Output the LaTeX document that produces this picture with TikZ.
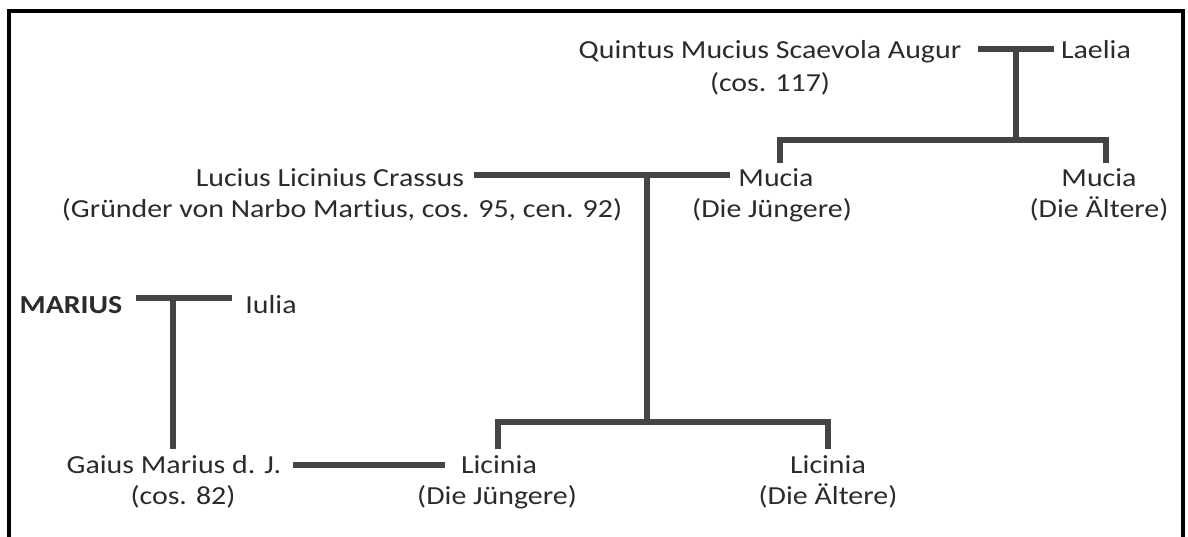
\documentclass[tikz,border=0pt]{standalone}
\usepackage{fontspec}
\setmainfont{Carlito}[FakeStretch=1.15, Ligatures=NoCommon]
\usetikzlibrary{calc}
\definecolor{ink}{HTML}{2B2B2B}
\definecolor{bondgray}{HTML}{444444}

\begin{document}
\begin{tikzpicture}[x=1pt,y=-1pt,
  person/.style={font=\fontsize{26}{31}\selectfont, text=ink,
    text height=22pt, text depth=2pt, inner xsep=0pt, inner ysep=2pt,
    outer sep=0pt, anchor=base},
  bond/.style={draw=bondgray, line width=5.5pt},
  frame/.style={draw=black, line width=4.8pt}]

\useasboundingbox (0,0) rectangle (1188,537);
\draw[frame] (9,537) -- (9,11) -- (1183,11) -- (1183,537);

% people
\node[person] (quintus) at (770,59) {Quintus Mucius Scaevola Augur};
\node[person] (quintusB) at (770,92) {(cos. 117)};
\node[person] (laelia) at (1096,59) {Laelia};

\node[person] (lucius) at (330,187) {Lucius Licinius Crassus};
\node[person] (luciusB) at (342,218) {(Gründer von Narbo Martius, cos. 95, cen. 92)};
\node[person] (mucJ) at (776,187) {Mucia};
\node[person] (mucJb) at (772,218) {(Die Jüngere)};
\node[person] (mucA) at (1099,187) {Mucia};
\node[person] (mucAb) at (1099,218) {(Die Ältere)};

\node[person, font=\fontsize{26}{31}\selectfont\bfseries] (marius) at (71,313) {MARIUS};
\node[person] (iulia) at (271,313) {Iulia};
\node[person] (gaius) at (174,473) {Gaius Marius d. J.};
\node[person] (gaiusB) at (183,504) {(cos. 82)};

\node[person] (licJ) at (499,473) {Licinia};
\node[person] (licJb) at (497,504) {(Die Jüngere)};
\node[person] (licA) at (828,473) {Licinia};
\node[person] (licAb) at (828,504) {(Die Ältere)};

% junctions and sibling bars
\coordinate (jq) at (1016,49);
\coordinate (qbar) at (0,140);
\coordinate (jl) at (647,175);
\coordinate (lbar) at (0,422);
\coordinate (jm) at (173,298);

% Quintus + Laelia
\draw[bond, shorten <=17pt, shorten >=7pt] (quintus.east) -- (laelia.west);
\draw[bond] (jq) -- (jq |- qbar);
\draw[bond] ([xshift=4pt]mucJ.north) |- ([xshift=7pt]mucA.north |- qbar) -- ([xshift=7pt]mucA.north);

% Crassus + Mucia
\draw[bond, shorten <=10pt, shorten >=8pt] ([yshift=2pt]lucius.east) -- ([yshift=2pt]mucJ.west);
\draw[bond] (jl) -- (jl |- lbar);
\draw[bond] ([xshift=-1pt]licJ.north) |- (licA.north |- lbar) -- (licA.north);

% Marius + Iulia
\draw[bond, shorten <=14pt, shorten >=13pt] ([yshift=5pt]marius.east) -- ([yshift=5pt]iulia.west);
\draw[bond] (jm) -- (jm |- gaius.north);

% Gaius Marius + Licinia
\draw[bond, shorten <=12pt, shorten >=16pt] ([yshift=-2pt]gaius.east) -- ([yshift=-2pt]licJ.west);
\end{tikzpicture}
\end{document}
